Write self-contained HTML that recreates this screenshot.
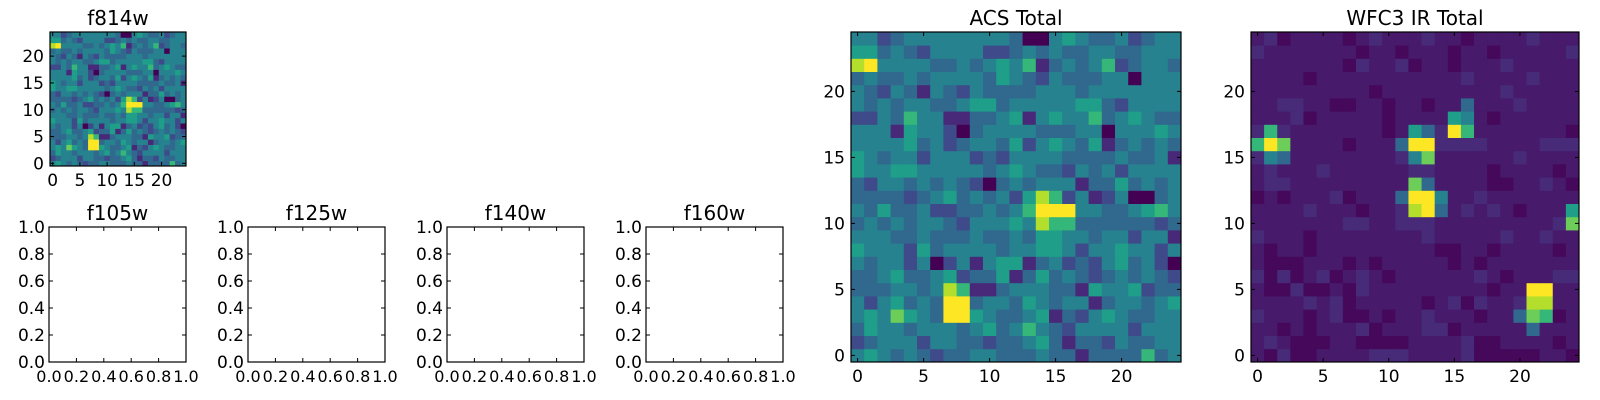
<!DOCTYPE html>
<html><head><meta charset="utf-8"><style>
body{margin:0;background:#fff;}
svg{display:block;font-family:"DejaVu Sans","Liberation Sans",sans-serif;}
</style></head><body>
<svg id="fig" width="1600" height="400" viewBox="0 0 1600 400" xmlns="http://www.w3.org/2000/svg"></svg>
<script>
// ACS total (also f814w) pixel values, row 0 = bottom, scale 0-9
const acsRows = [
"4543432334433343313333634",
"2344424433233453133243344",
"3544344434534643244442444",
"4547543995433451324543344",
"4245343993443543441344345",
"3334434861134443315445233",
"3345334523351353432343432",
"4344240241455134232453420",
"5444253444434455424454424",
"4443343334334355443442441",
"3434344324445486633333323",
"4353342233434699944334564",
"3333234534342586241240034",
"3244343432034344413353434",
"5445544444345433243424444",
"5434424442324444333343341",
"4444534234435245435134343",
"4441544203444433344044454",
"2243644113345145446345433",
"4343443345534444455324444",
"4324314324333344434444444",
"3433434444354324333440444",
"8944443343454613434623443",
"5534324444223434334433444",
"4423444444443004543342344"
];
// WFC3 IR total pixel values, row 0 = bottom, scale 0-9
const irRows = [
"1020011112221111200000110",
"1210001100001111200111101",
"1101011120111220111113111",
"2111012001011211101137601",
"1111212011111012021128811",
"1002001021111111110119911",
"2020120121011111121011122",
"1000111010111110101111111",
"1011011111111100110111101",
"2111011111111211111211211",
"1111111221122211111111127",
"1111211101128931212101115",
"0101112011139941121111111",
"1221111111117311110011210",
"1211121111112211110111101",
"2431111111124711111121111",
"6971111011139922221111222",
"2621111111015329611111110",
"1112011111011115410111111",
"1122110011011011311121111",
"1111111110111111111211111",
"1111011111111111211112111",
"1111111021120110111211111",
"2111111101101110110111112",
"1201111012111211011112111"
];
const xTicks = [0, 5, 10, 15, 20];
const yTicks = [0, 5, 10, 15, 20];
const unitTicks = [0, 0.2, 0.4, 0.6, 0.8, 1.0];
const unitLabels = ["0.0", "0.2", "0.4", "0.6", "0.8", "1.0"];
const emptyTitles = ["f105w", "f125w", "f140w", "f160w"];

const NS = "http://www.w3.org/2000/svg";
const fig = document.getElementById('fig');
function mk(tag, attrs, parent) {
  const e = document.createElementNS(NS, tag);
  for (const k in attrs) e.setAttribute(k, attrs[k]);
  (parent || fig).appendChild(e);
  return e;
}
const vir = [[68,1,84],[72,40,120],[62,74,137],[49,104,142],[38,130,142],[31,158,137],[53,183,121],[109,205,89],[180,222,44],[253,231,37]];
function viridis(t) {
  t = Math.max(0, Math.min(1, t));
  const p = t * (vir.length - 1), i = Math.min(vir.length - 2, Math.floor(p)), f = p - i;
  const c = vir[i].map((v, k) => Math.round(v + (vir[i + 1][k] - v) * f));
  return `rgb(${c[0]},${c[1]},${c[2]})`;
}
const acsScale = v => v / 9;
const irScale = v => v <= 2 ? 0.02 + v * 0.05 : v / 9;
function parseRows(rows) { return rows.map(r => r.replace(/\s/g, '').split('').map(Number)); }

function drawHeat(name, rows, scale, x0, y0, w, h, title, fs) {
  const g = mk('g', {});
  
  
  const data = parseRows(rows);
  const n = 25;
  const sx = v => x0 + (v + 0.5) / n * w;
  const sy = v => y0 + h - (v + 0.5) / n * h;
  const cw = w / n, ch = h / n;
  data.forEach((row, r) => row.slice(0, n).forEach((v, c) => {
    const cell = mk('rect', {x: (sx(c) - cw / 2).toFixed(2), y: (sy(r) - ch / 2).toFixed(2), width: (cw + 0.4).toFixed(2), height: (ch + 0.4).toFixed(2), fill: viridis(scale(v))}, g);
    
    
  }));
  const frame = mk('rect', {x: x0, y: y0, width: w, height: h, fill: 'none', stroke: '#000', 'stroke-width': 1.2}, g);
  
  
  xTicks.forEach(t => {
    const x = sx(t);
    mk('line', {x1: x, x2: x, y1: y0 + h, y2: y0 + h - 4, stroke: '#000'}, g);
    mk('line', {x1: x, x2: x, y1: y0, y2: y0 + 4, stroke: '#000'}, g);
    const tl = mk('text', {x: x, y: y0 + h + 20, 'font-size': fs, 'text-anchor': 'middle'}, g);
    tl.textContent = t;
    
    
  });
  yTicks.forEach(t => {
    const y = sy(t);
    mk('line', {x1: x0, x2: x0 + 4, y1: y, y2: y, stroke: '#000'}, g);
    mk('line', {x1: x0 + w, x2: x0 + w - 4, y1: y, y2: y, stroke: '#000'}, g);
    const tl = mk('text', {x: x0 - 6, y: y + fs * 0.36, 'font-size': fs, 'text-anchor': 'end'}, g);
    tl.textContent = t;
    
    
  });
  const tt = mk('text', {x: x0 + w / 2, y: y0 - 7, 'font-size': 20, 'text-anchor': 'middle'}, g);
  tt.textContent = title;
  
  
}

function drawEmpty(name, x0, y0, w, h, title) {
  const g = mk('g', {});
  
  
  const sx = v => x0 + v * w, sy = v => y0 + h - v * h;
  const frame = mk('rect', {x: x0, y: y0, width: w, height: h, fill: 'none', stroke: '#000', 'stroke-width': 1.2}, g);
  
  
  unitTicks.forEach((t, i) => {
    const x = sx(t), y = sy(t);
    mk('line', {x1: x, x2: x, y1: y0 + h, y2: y0 + h - 4, stroke: '#000'}, g);
    mk('line', {x1: x, x2: x, y1: y0, y2: y0 + 4, stroke: '#000'}, g);
    mk('line', {x1: x0, x2: x0 + 4, y1: y, y2: y, stroke: '#000'}, g);
    mk('line', {x1: x0 + w, x2: x0 + w - 4, y1: y, y2: y, stroke: '#000'}, g);
    const xl = mk('text', {x: x, y: y0 + h + 20, 'font-size': 16, 'text-anchor': 'middle'}, g);
    xl.textContent = unitLabels[i];
    
    
    const yl = mk('text', {x: x0 - 4, y: y + 6, 'font-size': 17, 'text-anchor': 'end'}, g);
    yl.textContent = unitLabels[i];
    
    
  });
  const tt = mk('text', {x: x0 + w / 2, y: y0 - 7, 'font-size': 20, 'text-anchor': 'middle'}, g);
  tt.textContent = title;
  
  
}

drawHeat('f814w-panel', acsRows, acsScale, 50, 32, 136, 134, 'f814w', 17);
emptyTitles.forEach((t, i) => drawEmpty(t + '-panel', 49 + i * 199, 227, 137, 135, t));
drawHeat('acs-total-panel', acsRows, acsScale, 851, 32, 330, 330, 'ACS Total', 17);
drawHeat('wfc3-ir-total-panel', irRows, irScale, 1251, 32, 328, 330, 'WFC3 IR Total', 17);
</script>
</body></html>
